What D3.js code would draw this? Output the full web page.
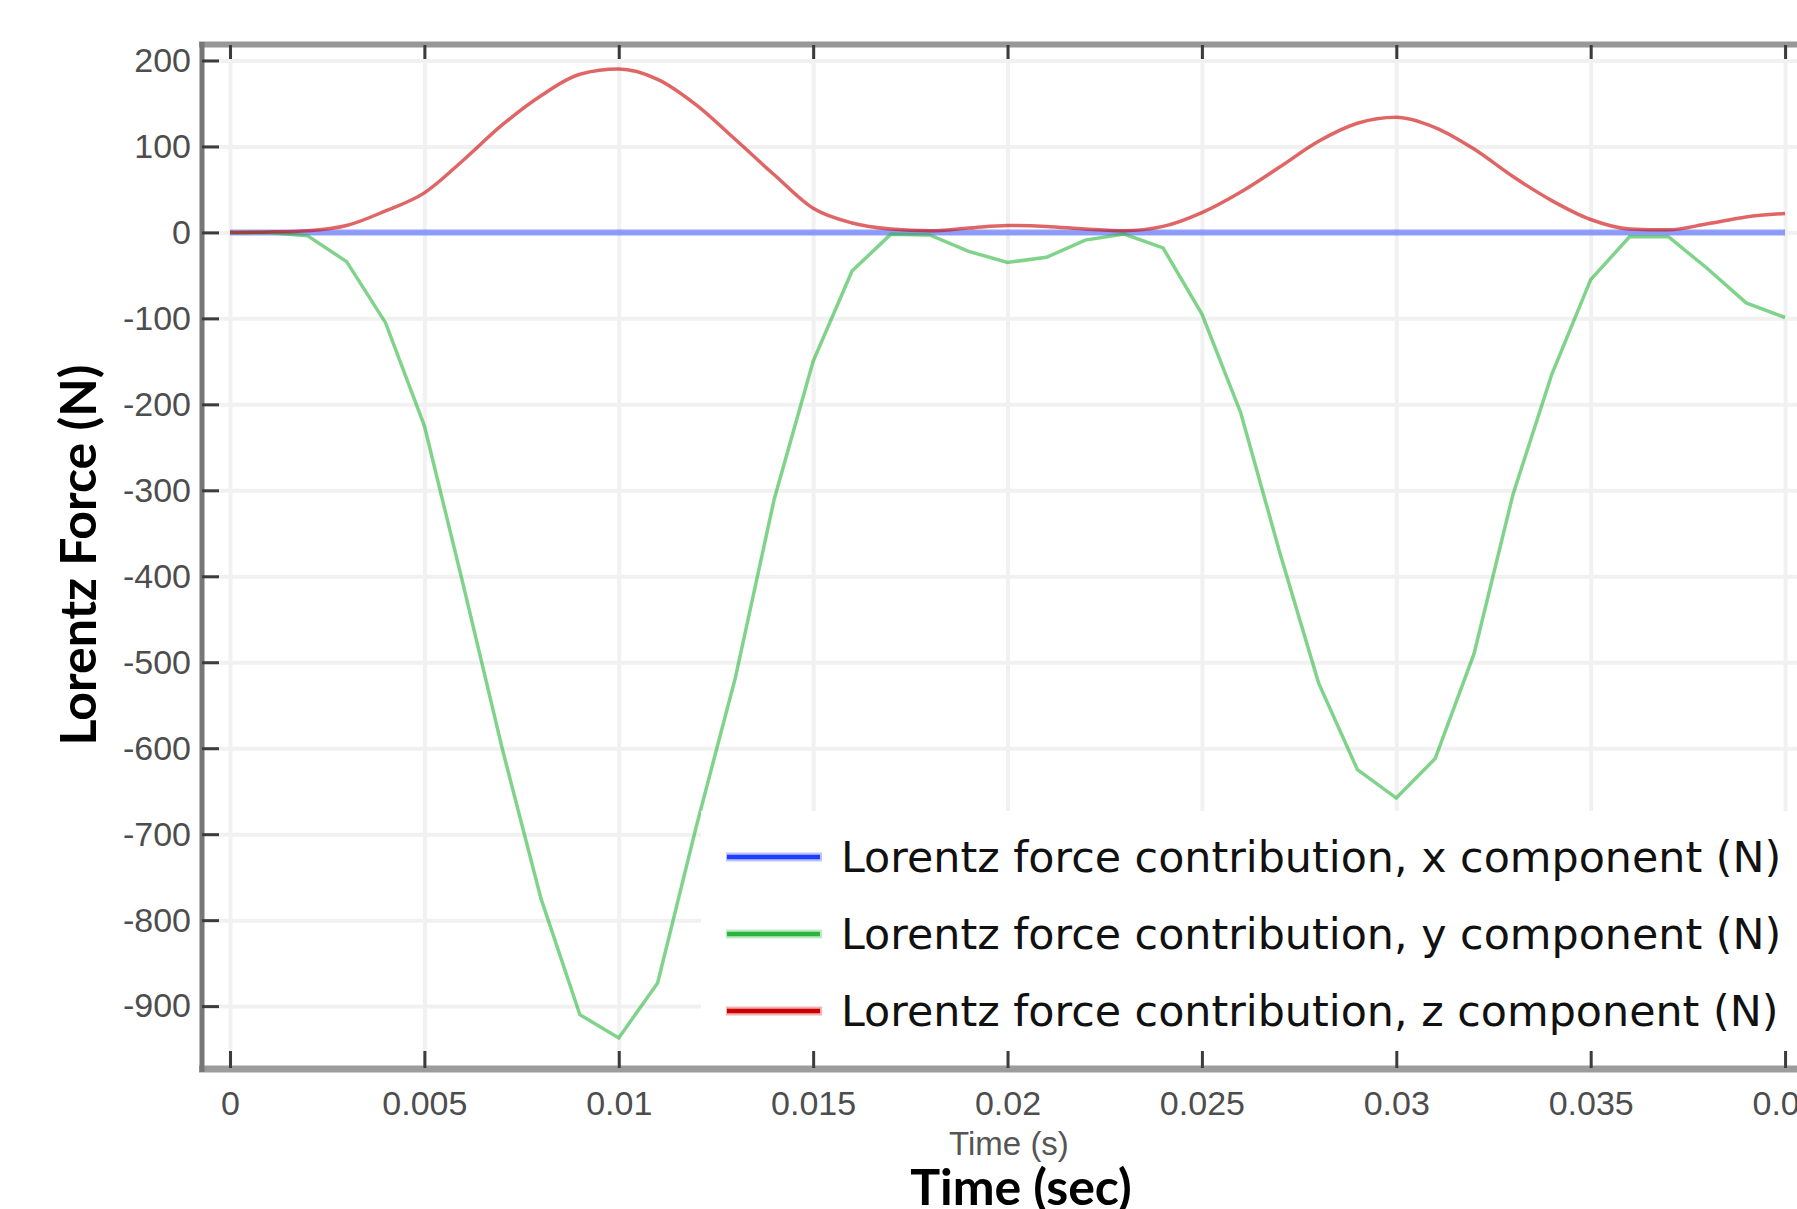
<!DOCTYPE html>
<html>
<head>
<meta charset="utf-8">
<script src="https://d3js.org/d3.v7.min.js"></script>
<style>
  body { margin: 0; background: #fff; }
  svg { display: block; }
  .grid line { stroke: #f1f1f1; stroke-width: 4px; }
  .grid path { display: none; }
  .ticks path { display: none; }
  .ticks line { stroke: #3c3c3c; stroke-width: 3px; }
  .ticks text { font-family: "Liberation Sans", Arial, sans-serif; font-size: 34px; fill: #4d4d4d; }
  .legend text { font-family: "DejaVu Sans", Verdana, sans-serif; font-size: 42.8px; fill: #111; }
  .title { font-family: Lato, "Open Sans", sans-serif; font-weight: 700; font-size: 50px; fill: #000; }
  .subtitle { font-family: "Liberation Sans", Arial, sans-serif; font-size: 33px; fill: #555; }
</style>
</head>
<body>
<script>
// time samples (s)
const timeS = [0, 0.001, 0.002, 0.003, 0.004, 0.005, 0.006, 0.007, 0.008, 0.009,
               0.010, 0.011, 0.012, 0.013, 0.014, 0.015, 0.016, 0.017, 0.018, 0.019,
               0.020, 0.021, 0.022, 0.023, 0.024, 0.025, 0.026, 0.027, 0.028, 0.029,
               0.030, 0.031, 0.032, 0.033, 0.034, 0.035, 0.036, 0.037, 0.038, 0.039, 0.040];

// Lorentz force contribution (N)
const forceX = [0, 0, 0, 0, 0, 0, 0, 0, 0, 0,
                0, 0, 0, 0, 0, 0, 0, 0, 0, 0,
                0, 0, 0, 0, 0, 0, 0, 0, 0, 0,
                0, 0, 0, 0, 0, 0, 0, 0, 0, 0, 0];
const forceY = [0, 0, -4, -34, -105, -225, -410, -600, -775, -910,
                -937, -873, -690, -518, -310, -150, -45, -2, -3, -22,
                -35, -29, -9, -2, -18, -95, -210, -372, -524, -625,
                -658, -612, -490, -305, -165, -55, -5, -5, -42, -82, -99];
const forceZ = [0, 0.5, 2, 8, 25, 46, 84, 125, 159, 184,
                190, 178, 148, 108, 67, 28, 11, 4, 2, 5,
                8, 7, 4, 2, 7, 23, 47, 76, 106, 127,
                134, 122, 97, 65, 37, 15, 4, 3, 10, 18, 22];

const xTicks = [0, 0.005, 0.01, 0.015, 0.02, 0.025, 0.03, 0.035, 0.04];
const yTicks = [200, 100, 0, -100, -200, -300, -400, -500, -600, -700, -800, -900];

const seriesNames = ["Lorentz force contribution, x component (N)",
                     "Lorentz force contribution, y component (N)",
                     "Lorentz force contribution, z component (N)"];
const seriesColors = ["#1f3dff", "#2cb53c", "#cc0000"];

const W = 1797, H = 1209;
const pLeft = 202, pRight = 1815, pTop = 45, pBottom = 1068;

const svg = d3.select("body").append("svg")
    .attr("width", W).attr("height", H);

const x = d3.scaleLinear().domain([-0.00072, 0.04077]).range([pLeft, pRight]);
const y = d3.scaleLinear().domain([-972, 218]).range([pBottom, pTop]);

// grid
svg.append("g").attr("class", "grid")
    .attr("transform", "translate(0," + pBottom + ")")
    .call(d3.axisBottom(x).tickValues(xTicks).tickSize(-(pBottom - pTop)).tickFormat(""));
svg.append("g").attr("class", "grid")
    .attr("transform", "translate(" + pLeft + ",0)")
    .call(d3.axisLeft(y).tickValues(yTicks).tickSize(-(pRight - pLeft)).tickFormat(""));

svg.append("clipPath").attr("id", "plotclip")
  .append("rect").attr("x", pLeft).attr("y", pTop)
    .attr("width", pRight - pLeft).attr("height", pBottom - pTop);

const plot = svg.append("g").attr("clip-path", "url(#plotclip)");

function series(vals) {
    return timeS.map(function (t, i) { return [t, vals[i]]; });
}
const line = d3.line().x(function (d) { return x(d[0]); }).y(function (d) { return y(d[1]); });
const smooth = d3.line().curve(d3.curveMonotoneX)
    .x(function (d) { return x(d[0]); }).y(function (d) { return y(d[1]); });

plot.append("path").attr("d", line(series(forceX)))
    .attr("fill", "none").attr("stroke", seriesColors[0])
    .attr("stroke-width", 6).attr("stroke-opacity", 0.48);
plot.append("path").attr("d", line(series(forceY)))
    .attr("fill", "none").attr("stroke", seriesColors[1])
    .attr("stroke-width", 3.5).attr("stroke-opacity", 0.6);
plot.append("path").attr("d", smooth(series(forceZ)))
    .attr("fill", "none").attr("stroke", seriesColors[2])
    .attr("stroke-width", 3.5).attr("stroke-opacity", 0.6);

// legend, sits over the lower right of the plot
const legend = svg.append("g").attr("class", "legend");
legend.append("rect").attr("x", 701).attr("y", 811)
    .attr("width", pRight - 701).attr("height", pBottom - 811).attr("fill", "#fff");
const rows = legend.selectAll("g.row").data(seriesNames).enter()
    .append("g").attr("class", "row")
    .attr("transform", function (d, i) { return "translate(0," + (857 + i * 77) + ")"; });
rows.append("line").attr("x1", 726).attr("x2", 822)
    .attr("stroke", function (d, i) { return seriesColors[i]; })
    .attr("stroke-width", 9).attr("stroke-opacity", 0.3);
rows.append("line").attr("x1", 727).attr("x2", 820)
    .attr("stroke", function (d, i) { return seriesColors[i]; })
    .attr("stroke-width", 4.5);
rows.append("text").attr("x", 841).attr("y", 15).text(function (d) { return d; });

// frame
const frame = svg.append("g");
frame.append("line").attr("x1", pLeft - 3).attr("x2", pRight + 3).attr("y1", pTop - 0.5).attr("y2", pTop - 0.5)
    .attr("stroke", "#979797").attr("stroke-width", 6);
frame.append("line").attr("x1", pLeft - 3).attr("x2", pRight + 3).attr("y1", pBottom + 1).attr("y2", pBottom + 1)
    .attr("stroke", "#9c9c9c").attr("stroke-width", 7);
frame.append("line").attr("x1", pLeft).attr("x2", pLeft).attr("y1", pTop - 3).attr("y2", pBottom + 4)
    .attr("stroke", "#777").attr("stroke-width", 5);
frame.append("line").attr("x1", pRight).attr("x2", pRight).attr("y1", pTop - 3).attr("y2", pBottom + 4)
    .attr("stroke", "#777").attr("stroke-width", 5);

// ticks and tick labels
svg.append("g").attr("class", "ticks")
    .attr("transform", "translate(0," + pBottom + ")")
    .call(d3.axisBottom(x).tickValues(xTicks).tickSize(-17).tickPadding(23)
        .tickFormat(function (d) { return String(d); }));
svg.append("g").attr("class", "ticks")
    .attr("transform", "translate(0," + pTop + ")")
    .call(d3.axisTop(x).tickValues(xTicks).tickSize(-14).tickFormat(""));
svg.append("g").attr("class", "ticks")
    .attr("transform", "translate(" + pLeft + ",0)")
    .call(d3.axisLeft(y).tickValues(yTicks).tickSize(-17).tickPadding(11)
        .tickFormat(function (d) { return String(d); }));
svg.append("g").attr("class", "ticks")
    .attr("transform", "translate(" + pRight + ",0)")
    .call(d3.axisRight(y).tickValues(yTicks).tickSize(-17).tickFormat(""));

// axis titles
svg.append("text").attr("class", "subtitle")
    .attr("x", 1009).attr("y", 1155).attr("text-anchor", "middle").text("Time (s)");
svg.append("text").attr("class", "title")
    .attr("x", 1021).attr("y", 1205).attr("text-anchor", "middle").text("Time (sec)");
svg.append("text").attr("class", "title")
    .attr("transform", "translate(96,555) rotate(-90)")
    .attr("text-anchor", "middle").text("Lorentz Force (N)");
</script>
</body>
</html>
